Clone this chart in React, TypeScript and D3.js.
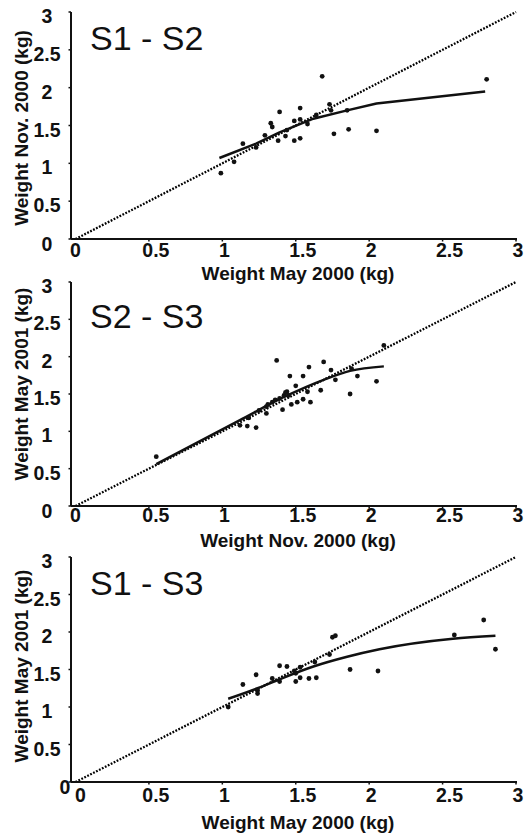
import React from "react";
import * as d3 from "d3";

// ---------- data ----------
const tickValues = [0, 0.5, 1, 1.5, 2, 2.5, 3];
const tickLabels = ["0", "0.5", "1", "1.5", "2", "2.5", "3"];
const panelTitles = ["S1 - S2", "S2 - S3", "S1 - S3"];
const xTitles = ["Weight May 2000 (kg)", "Weight Nov. 2000 (kg)", "Weight May 2000 (kg)"];
const yTitles = ["Weight Nov. 2000 (kg)", "Weight May 2001 (kg)", "Weight May 2001 (kg)"];
const diagonal: [number, number][] = [[0, 0], [3, 3]];

const points12: [number, number][] = [
  [0.99, 0.87], [1.08, 1.02], [1.14, 1.26], [1.23, 1.21], [1.33, 1.53], [1.34, 1.48],
  [1.39, 1.68], [1.38, 1.3], [1.43, 1.36], [1.44, 1.44], [1.49, 1.56], [1.49, 1.3],
  [1.53, 1.73], [1.53, 1.58], [1.53, 1.33], [1.58, 1.52], [1.64, 1.64], [1.68, 2.15],
  [1.73, 1.78], [1.74, 1.7], [1.76, 1.39], [1.85, 1.7], [1.86, 1.45], [2.05, 1.43],
  [2.8, 2.11], [1.29, 1.37],
];
const curve12: [number, number][] = [
  [0.98, 1.07], [1.23, 1.26], [1.39, 1.41], [1.62, 1.59], [1.85, 1.7], [2.05, 1.79], [2.79, 1.95],
];

const points23: [number, number][] = [
  [0.55, 0.66], [1.12, 1.08], [1.17, 1.07], [1.23, 1.05], [1.18, 1.18], [1.25, 1.28],
  [1.3, 1.24], [1.3, 1.33], [1.34, 1.39], [1.36, 1.42], [1.37, 1.95], [1.41, 1.29],
  [1.42, 1.48], [1.44, 1.53], [1.45, 1.48], [1.46, 1.74], [1.47, 1.36], [1.5, 1.61],
  [1.51, 1.39], [1.55, 1.74], [1.55, 1.43], [1.58, 1.53], [1.59, 1.86], [1.6, 1.39],
  [1.67, 1.55], [1.69, 1.93], [1.74, 1.82], [1.77, 1.69], [1.87, 1.5], [1.88, 1.84],
  [1.92, 1.74], [2.05, 1.67], [2.1, 2.15], [1.31, 1.36], [1.39, 1.44], [1.43, 1.52],
];
const curve23: [number, number][] = [
  [0.55, 0.56], [1.12, 1.15], [1.42, 1.46], [1.69, 1.69], [1.87, 1.81], [2.1, 1.87],
];

const points13: [number, number][] = [
  [1.04, 1.0], [1.14, 1.3], [1.23, 1.43], [1.24, 1.18], [1.34, 1.38], [1.39, 1.34],
  [1.39, 1.55], [1.44, 1.54], [1.5, 1.45], [1.5, 1.34], [1.53, 1.53], [1.53, 1.39],
  [1.59, 1.38], [1.64, 1.39], [1.63, 1.6], [1.73, 1.7], [1.75, 1.93], [1.77, 1.95],
  [1.87, 1.5], [2.06, 1.48], [2.58, 1.96], [2.78, 2.16], [2.86, 1.77], [1.24, 1.22],
  [1.49, 1.48],
];
const curve13: [number, number][] = [
  [1.04, 1.11], [1.24, 1.25], [1.39, 1.37], [1.62, 1.54], [1.85, 1.67], [2.07, 1.77],
  [2.57, 1.91], [2.86, 1.95],
];

const allPoints = [points12, points23, points13];
const allCurves = [curve12, curve23, curve13];

// ---------- layout ----------
const W = 526;
const H = 833;
const FONT = "'Liberation Sans', Arial, Helvetica, sans-serif";
const panels = [
  { top: 12, bottom: 239, titleBase: 50, xTitleBase: 280, yTitleCy: 128, yZeroX: 47, yZeroDy: 7, xLabDy: 19, smooth: false },
  { top: 282, bottom: 506, titleBase: 328, xTitleBase: 547, yTitleCy: 384, yZeroX: 47, yZeroDy: 7, xLabDy: 17, smooth: true },
  { top: 557, bottom: 782, titleBase: 595, xTitleBase: 829, yTitleCy: 666, yZeroX: 65, yZeroDy: 7, xLabDy: 21, smooth: true },
];

const x = d3.scaleLinear().domain([0, 3]).range([75.5, 516]);
const axisX = 71;

function Panel({ idx }: { idx: number }) {
  const p = panels[idx];
  const y = d3.scaleLinear().domain([0, 3]).range([p.bottom, p.top]);
  const line = d3.line<[number, number]>().x((d) => x(d[0])).y((d) => y(d[1]));
  const fit = d3
    .line<[number, number]>()
    .x((d) => x(d[0]))
    .y((d) => y(d[1]))
    .curve(p.smooth ? d3.curveMonotoneX : d3.curveLinear);
  return (
    <g>
      {/* diagonal 1:1 line */}
      <path
        d={line(diagonal) || ""}
        fill="none"
        stroke="#000"
        strokeWidth={2.3}
        strokeDasharray="1.8 1.5"
      />
      {/* fitted curve */}
      <path
        d={fit(allCurves[idx]) || ""}
        fill="none"
        stroke="#111"
        strokeWidth={2.5}
        strokeLinejoin="round"
      />
      {/* points */}
      {allPoints[idx].map((d, i) => (
        <circle key={i} cx={x(d[0])} cy={y(d[1])} r={2.4} fill="#111" />
      ))}
      {/* axes */}
      <line x1={axisX} x2={axisX} y1={p.top} y2={p.bottom} stroke="#111" strokeWidth={2} />
      <line x1={axisX} x2={x(3) + 1} y1={p.bottom} y2={p.bottom} stroke="#111" strokeWidth={2} />
      {tickValues.map((t, i) => (
        <g key={"t" + i}>
          <line x1={axisX - 2.5} x2={axisX} y1={y(t)} y2={y(t)} stroke="#111" strokeWidth={1.5} />
          {i > 0 && (
            <line x1={x(t)} x2={x(t)} y1={p.bottom} y2={p.bottom + 2.5} stroke="#111" strokeWidth={1.5} />
          )}
          <text
            x={i === 0 ? p.yZeroX : 47}
            y={y(t) + (i === 0 ? p.yZeroDy : 6)}
            textAnchor="middle"
            dominantBaseline="middle"
            fontFamily={FONT}
            fontWeight="bold"
            fontSize={19.5}
            fill="#111"
          >
            {tickLabels[i]}
          </text>
          <text
            x={x(t) + (tickLabels[i].includes(".") ? 7 : 2) - (i === 0 ? 2 : 0) + (i === 0 && idx === 2 ? 5 : 0)}
            y={p.bottom + p.xLabDy - 6}
            textAnchor="middle"
            dominantBaseline="middle"
            fontFamily={FONT}
            fontWeight="bold"
            fontSize={19.5}
            fill="#111"
          >
            {tickLabels[i]}
          </text>
        </g>
      ))}
      {/* titles */}
      <text x={90} y={p.titleBase} fontFamily={FONT} fontSize={34} fill="#111">
        {panelTitles[idx]}
      </text>
      <text
        x={298}
        y={p.xTitleBase}
        textAnchor="middle"
        fontFamily={FONT}
        fontWeight="bold"
        fontSize={19}
        fill="#111"
      >
        {xTitles[idx]}
      </text>
      <text
        transform={`translate(28,${p.yTitleCy}) rotate(-90)`}
        textAnchor="middle"
        fontFamily={FONT}
        fontWeight="bold"
        fontSize={19}
        fill="#111"
      >
        {yTitles[idx]}
      </text>
    </g>
  );
}

export default function App() {
  return (
    <svg
      width={W}
      height={H}
      viewBox={`0 0 ${W} ${H}`}
      style={{ position: "absolute", left: 0, top: 0, background: "#fff" }}
    >
      <rect width={W} height={H} fill="#fff" />
      {[0, 1, 2].map((i) => (
        <Panel key={i} idx={i} />
      ))}
    </svg>
  );
}
